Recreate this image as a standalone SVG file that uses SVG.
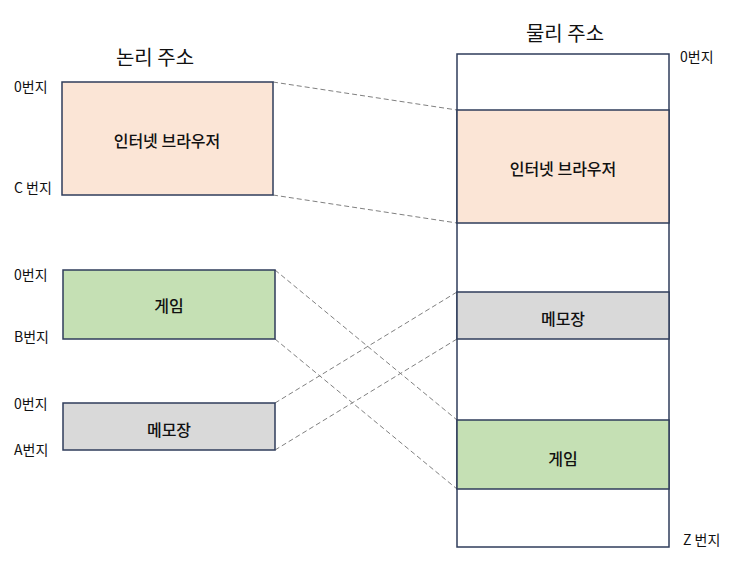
<svg xmlns="http://www.w3.org/2000/svg" width="750" height="566" viewBox="0 0 750 566">
<style>
text{font-family:"Noto Sans CJK KR","Noto Sans",sans-serif;fill:#111}
.t{font-size:20px;text-anchor:middle}
.l{font-size:14px}
.b{font-size:16px;text-anchor:middle;dominant-baseline:central;font-weight:500}
.box{stroke:#2F3D5B;stroke-width:1.5}
.c{stroke:#808080;stroke-width:1;stroke-dasharray:5,3;fill:none}
</style>
<rect width="750" height="566" fill="#fff"/>
<text class="t" x="155" y="65">논리 주소</text>
<text class="t" x="565" y="41">물리 주소</text>
<g id="labels">
<text class="l" x="14" y="92">0번지</text>
<text class="l" x="14" y="193">C 번지</text>
<text class="l" x="14" y="280">0번지</text>
<text class="l" x="14" y="342">B번지</text>
<text class="l" x="14" y="409">0번지</text>
<text class="l" x="14" y="455">A번지</text>
<text class="l" x="680" y="62">0번지</text>
<text class="l" x="683" y="545">Z 번지</text>
</g>
<g id="connectors">
<line class="c" x1="273" y1="82" x2="457" y2="110"/>
<line class="c" x1="273" y1="195" x2="457" y2="223"/>
<line class="c" x1="275" y1="270" x2="457" y2="420"/>
<line class="c" x1="275" y1="339" x2="457" y2="489"/>
<line class="c" x1="275" y1="403" x2="457" y2="292"/>
<line class="c" x1="275" y1="450" x2="457" y2="339"/>
</g>
<g id="physical">
<rect class="box" x="457" y="54" width="212" height="493" fill="#fff"/>
</g>
<g id="logical-browser">
<rect class="box" x="62" y="82" width="211" height="113" fill="#FBE5D6"/>
<text class="b" x="167" y="140">인터넷 브라우저</text>
</g>
<g id="logical-game">
<rect class="box" x="63" y="270" width="212" height="69" fill="#C5E0B4"/>
<text class="b" x="169" y="305">게임</text>
</g>
<g id="logical-memo">
<rect class="box" x="63" y="403" width="212" height="47" fill="#D9D9D9"/>
<text class="b" x="169" y="429">메모장</text>
</g>
<g id="physical-browser">
<rect class="box" x="457" y="110" width="212" height="113" fill="#FBE5D6"/>
<text class="b" x="563" y="168">인터넷 브라우저</text>
</g>
<g id="physical-memo">
<rect class="box" x="457" y="292" width="212" height="47" fill="#D9D9D9"/>
<text class="b" x="563" y="318">메모장</text>
</g>
<g id="physical-game">
<rect class="box" x="457" y="420" width="212" height="69" fill="#C5E0B4"/>
<text class="b" x="563" y="458">게임</text>
</g>
</svg>
